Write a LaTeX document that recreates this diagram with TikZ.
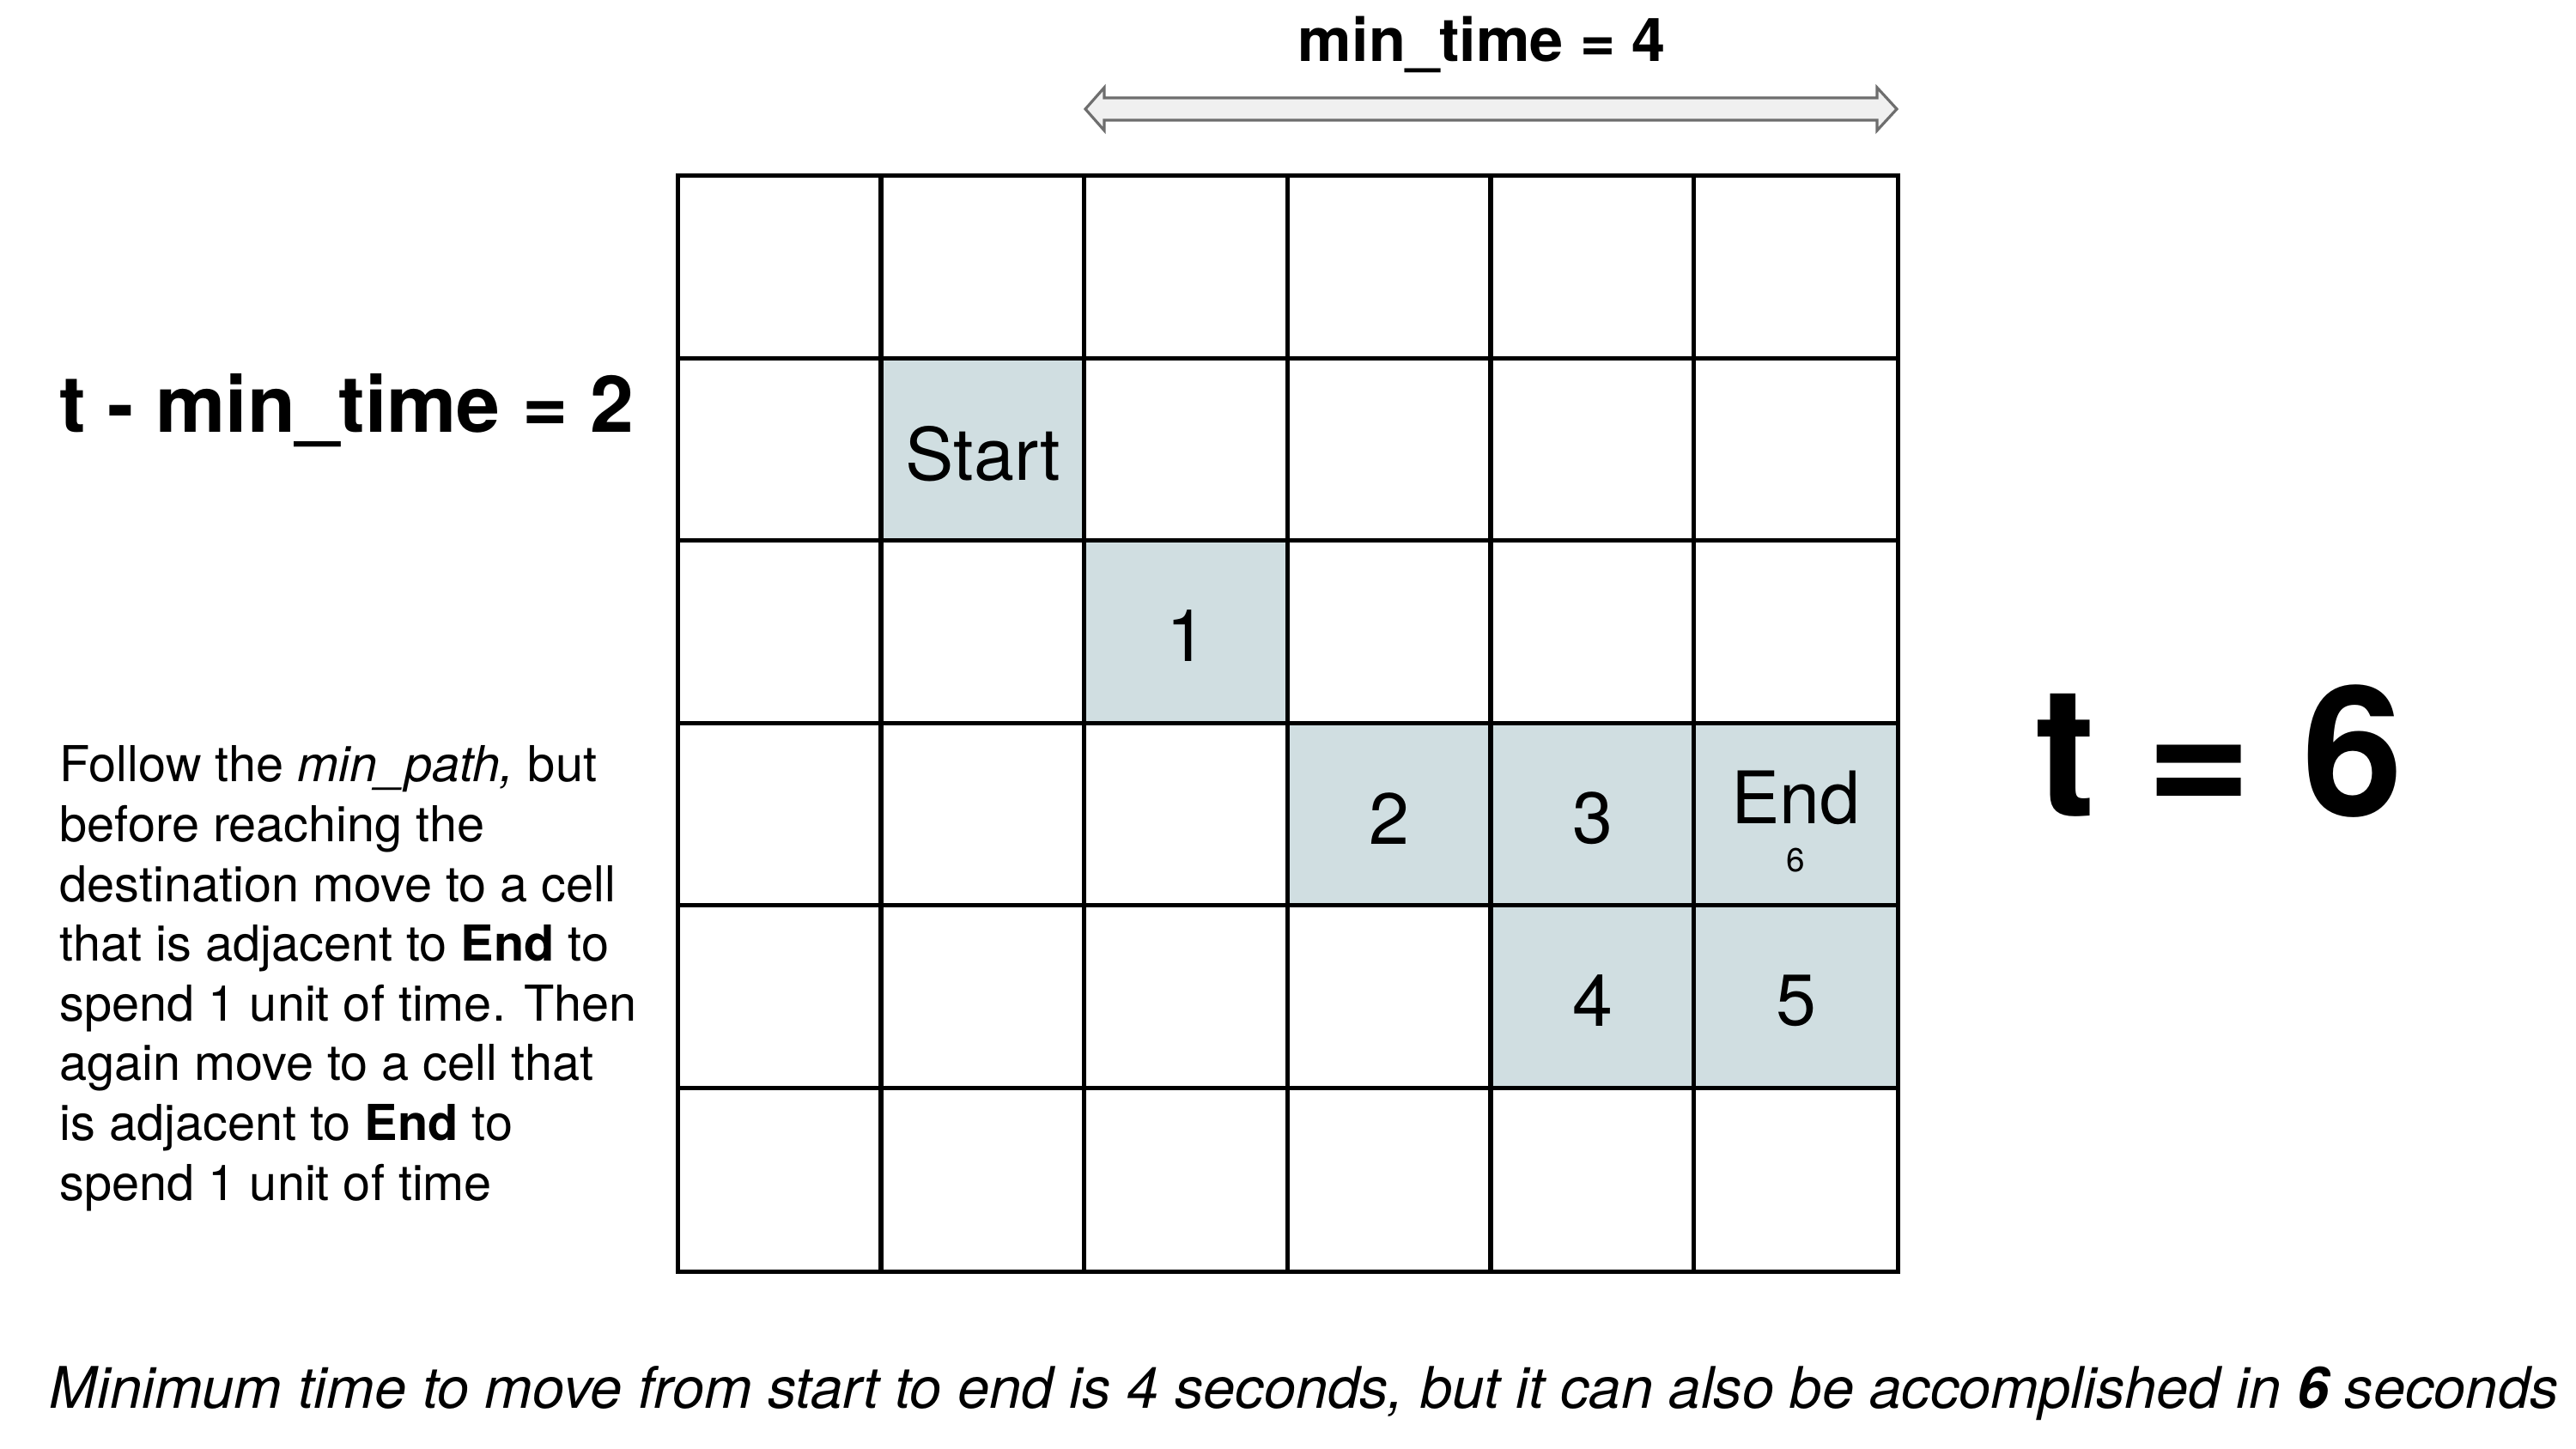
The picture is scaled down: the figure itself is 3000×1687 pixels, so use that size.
\documentclass[tikz,border=0pt]{standalone}
\usepackage{fontspec}
\setmainfont{TeX Gyre Heros}
\definecolor{cellfill}{RGB}{208,222,225}
\definecolor{arrowfill}{RGB}{240,240,240}
\definecolor{arrowline}{RGB}{110,110,110}
\begin{document}
\begin{tikzpicture}[x=0.01cm,y=-0.01cm,
  cell/.style={minimum width=2.3667cm,minimum height=2.125cm,inner sep=0pt,anchor=center},
  hl/.style={cell,fill=cellfill},
  celltext/.style={font=\fontsize{24}{28}\selectfont},
  gridline/.style={line width=1.5pt,black},
  arrowbox/.style={draw=arrowline,fill=arrowfill,line width=0.9pt,line join=miter}]
\useasboundingbox (0,0) rectangle (3000,1687);
% grid cells
\foreach \i in {0,...,5}{
  \foreach \j in {0,...,5}{
    \node[cell] (c\i\j) at ({790+(\i+0.5)*236.67},{205.5+(\j+0.5)*212.5}) {};
  }
}
% highlighted cells
\node[hl] (start) at (c11) {};
\node[hl] (s1) at (c22) {};
\node[hl] (s2) at (c33) {};
\node[hl] (s3) at (c43) {};
\node[hl] (endc) at (c53) {};
\node[hl] (s4) at (c44) {};
\node[hl] (s5) at (c54) {};
\node[celltext] (startlbl) at ([yshift=-0.04cm]start.center) {Start};
\node[celltext] (l1) at ([yshift=-0.04cm]s1.center) {1};
\node[celltext] (l2) at ([yshift=-0.04cm]s2.center) {2};
\node[celltext] (l3) at ([yshift=-0.04cm]s3.center) {3};
\node[celltext] (l4) at ([yshift=-0.04cm]s4.center) {4};
\node[celltext] (l5) at ([yshift=-0.04cm]s5.center) {5};
\node[celltext] (endlbl) at ([yshift=0.20cm]endc.center) {End};
\node[font=\fontsize{11}{13}\selectfont] (endsix) at ([yshift=-0.53cm]endc.center) {6};
% grid lines
\draw[gridline] (c00.north west) rectangle (c55.south east);
\foreach \i in {1,...,5}{
  \draw[gridline] (c\i0.north west) -- (c\i5.south west);
  \draw[gridline] (c0\i.north west) -- (c5\i.north east);
}
% double arrow
\coordinate (al) at (1264,127);
\coordinate (ar) at (2209,127);
\draw[arrowbox] (al) -- (1286,102) -- (1286,114) -- (2186,114) -- (2186,102) -- (ar)
  -- (2186,152) -- (2186,140) -- (1286,140) -- (1286,152) -- cycle;
% labels
\node[font=\bfseries\fontsize{20}{24}\selectfont] (mintime) at (1726,52) {min\_time = 4};
\node[anchor=base west,inner sep=0pt,font=\bfseries\fontsize{26}{30}\selectfont] (diff) at (69,503) {t - min\_time = 2};
\node[anchor=base west,inner sep=0pt,font=\bfseries\fontsize{60}{70}\selectfont] (tsix) at (2370,950) {t = 6};
\node[anchor=north west,inner sep=0pt,align=left,font=\fontsize{16.4}{19.8}\selectfont] (para) at (69,868)
 {Follow the \textit{min\_path,} but\\
  before reaching the\\
  destination move to a cell\\
  that is adjacent to \textbf{End} to\\
  spend 1 unit of time. Then\\
  again move to a cell that\\
  is adjacent to \textbf{End} to\\
  spend 1 unit of time};
\node[anchor=base west,inner sep=0pt,font=\itshape\fontsize{19}{23}\selectfont] (caption) at (57,1640)
 {Minimum time to move from start to end is 4 seconds, but it can also be accomplished in \textbf{6} seconds};
\end{tikzpicture}
\end{document}
